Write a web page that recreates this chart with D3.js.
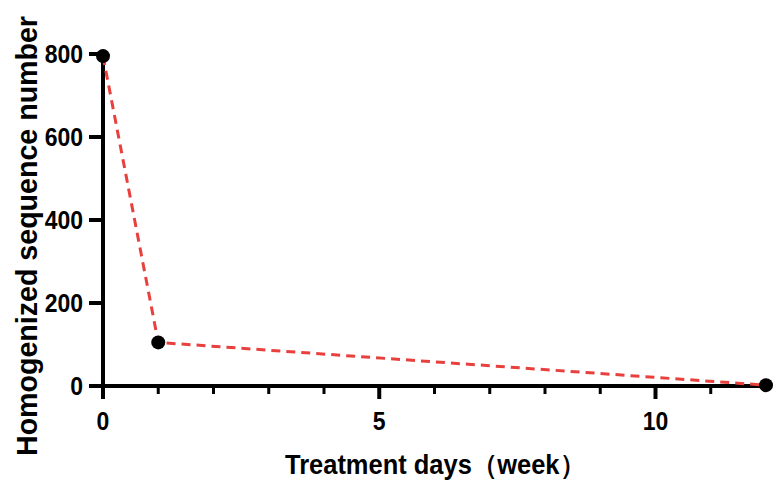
<!DOCTYPE html>
<html>
<head>
<meta charset="utf-8">
<script src="https://cdn.jsdelivr.net/npm/d3@7"></script>
<style>
  body { margin: 0; background: #fff; }
  text { font-family: "Liberation Sans", Arial, sans-serif; font-weight: bold; fill: #000; }
</style>
</head>
<body>
<div id="chart"></div>
<script>
const weeks = [0, 1, 12];
const seqNumbers = [795, 105, 2];
const xTickLabels = [0, 5, 10];
const yTickLabels = [0, 200, 400, 600, 800];

const width = 779, height = 488;
const margin = { top: 54, right: 13, bottom: 102, left: 103 };

const svg = d3.select('#chart')
  .append('svg')
  .attr('width', width)
  .attr('height', height);

const x = d3.scaleLinear()
  .domain([0, 12])
  .range([margin.left, width - margin.right]);

const y = d3.scaleLinear()
  .domain([0, 800])
  .range([height - margin.bottom, margin.top]);

// x axis: major ticks with labels, minor at every week
const xAxis = svg.append('g')
  .attr('transform', `translate(0,${y(0)})`);

xAxis.append('line')
  .attr('x1', x(0) - 2).attr('x2', x(12))
  .attr('stroke', '#000').attr('stroke-width', 4);

xAxis.selectAll('.minor')
  .data(d3.range(1, 12).filter(d => !xTickLabels.includes(d)))
  .enter().append('line')
  .attr('x1', d => x(d)).attr('x2', d => x(d))
  .attr('y1', 0).attr('y2', 8)
  .attr('stroke', '#000').attr('stroke-width', 3);

xAxis.selectAll('.major')
  .data(xTickLabels)
  .enter().append('line')
  .attr('x1', d => x(d)).attr('x2', d => x(d))
  .attr('y1', 0).attr('y2', 13)
  .attr('stroke', '#000').attr('stroke-width', 4);

// labels are drawn a bit taller than wide, like the original
xAxis.selectAll('.lbl')
  .data(xTickLabels)
  .enter().append('text')
  .attr('transform', d => `translate(${x(d)},44) scale(0.92,1)`)
  .attr('text-anchor', 'middle')
  .style('font-size', '25px')
  .text(d => d);

// y axis
const yAxis = svg.append('g')
  .attr('transform', `translate(${x(0)},0)`);

yAxis.append('line')
  .attr('y1', y(0) + 2).attr('y2', y(800))
  .attr('stroke', '#000').attr('stroke-width', 4);

yAxis.selectAll('.major')
  .data(yTickLabels)
  .enter().append('line')
  .attr('x1', -14).attr('x2', 0)
  .attr('y1', d => y(d)).attr('y2', d => y(d))
  .attr('stroke', '#000').attr('stroke-width', 4);

yAxis.selectAll('.lbl')
  .data(yTickLabels)
  .enter().append('text')
  .attr('transform', d => `translate(-20,${y(d)}) scale(0.92,1)`)
  .attr('dy', '0.36em')
  .attr('text-anchor', 'end')
  .style('font-size', '25px')
  .text(d => d);

// axis titles
svg.append('text')
  .attr('x', 285)
  .attr('y', 474)
  .attr('textLength', 300)
  .attr('lengthAdjust', 'spacingAndGlyphs')
  .style('font-size', '27px')
  .text('Treatment days（week）');

svg.append('text')
  .attr('transform', 'translate(37,456) rotate(-90)')
  .attr('textLength', 440)
  .attr('lengthAdjust', 'spacingAndGlyphs')
  .style('font-size', '29px')
  .text('Homogenized sequence number');

// data
const data = weeks.map((w, i) => ({ week: w, value: seqNumbers[i] }));

const line = d3.line()
  .x(d => x(d.week))
  .y(d => y(d.value));

svg.append('path')
  .datum(data)
  .attr('d', line)
  .attr('fill', 'none')
  .attr('stroke', '#e8403d')
  .attr('stroke-width', 3)
  .attr('stroke-dasharray', '9,6');

svg.selectAll('.dot')
  .data(data)
  .enter().append('circle')
  .attr('cx', d => x(d.week))
  .attr('cy', d => y(d.value))
  .attr('r', 7)
  .attr('fill', '#000');
</script>
</body>
</html>
